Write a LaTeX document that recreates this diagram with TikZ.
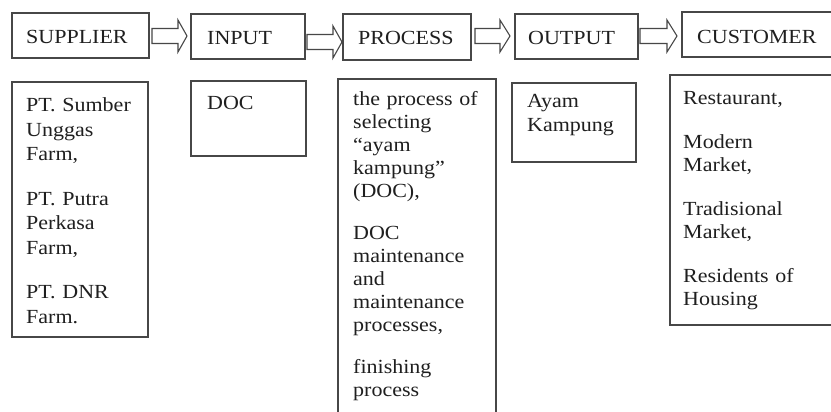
\documentclass[tikz,border=0pt]{standalone}
\usepackage{fontspec}
\setmainfont{Liberation Serif}[FakeStretch=1.1]
\newcommand\blockarr[4]{%
  \draw[barrow] (#1,#4-7.5) -- (#2,#4-7.5) -- (#2,#4-16) -- (#3,#4) -- (#2,#4+16) -- (#2,#4+7.5) -- (#1,#4+7.5) -- cycle;}
\begin{document}
\begin{tikzpicture}[x=1pt,y=-1pt,
  box/.style={draw=black!72, line width=1.1pt, rectangle, anchor=north west, inner sep=0pt, outer sep=0pt},
  hlabel/.style={anchor=base west, inner sep=0pt, text=black!88, font=\fontsize{20}{24}\selectfont},
  body/.style={anchor=base west, inner sep=0pt, text=black!88, align=left, text width=150pt},
  barrow/.style={draw=black!72, line width=1.1pt, fill=white, line join=miter}]
\clip (0,0) rectangle (831,412);
\fill[white] (0,0) rectangle (831,412);
% header boxes
\node[box, minimum width=137pt, minimum height=45pt] (hsup) at (12,13) {};
\node[box, minimum width=114pt, minimum height=45pt] (hinp) at (191,14) {};
\node[box, minimum width=128pt, minimum height=46pt] (hpro) at (343,14) {};
\node[box, minimum width=123pt, minimum height=45pt] (hout) at (515,14) {};
\node[box, minimum width=160pt, minimum height=45pt] (hcus) at (682,12) {};
\node[hlabel] (tsup) at (26,44) {SUPPLIER};
\node[hlabel] (tinp) at (207,45) {INPUT};
\node[hlabel] (tpro) at (358,45) {PROCESS};
\node[hlabel] (tout) at (528,45) {OUTPUT};
\node[hlabel] (tcus) at (697,44) {CUSTOMER};
% block arrows
\blockarr{152}{178}{187}{36}
\blockarr{307}{333}{342}{42}
\blockarr{475}{500}{510}{36}
\blockarr{640}{667}{677}{36}
% body boxes
\node[box, minimum width=136pt, minimum height=255pt] (bsup) at (12,82) {};
\node[box, minimum width=115pt, minimum height=75pt] (binp) at (191,81) {};
\node[box, minimum width=158pt, minimum height=345pt] (bpro) at (338,79) {};
\node[box, minimum width=124pt, minimum height=79pt] (bout) at (512,83) {};
\node[box, minimum width=170pt, minimum height=250pt] (bcus) at (670,75) {};
\node[body, font=\fontsize{20}{24.5}\selectfont] (xsup) at (26,112)
  {PT. Sumber\\Unggas\\Farm,\\[20pt]PT. Putra\\Perkasa\\Farm,\\[20pt]PT. DNR\\Farm.};
\node[body, font=\fontsize{20}{24}\selectfont] (xinp) at (207,110) {DOC};
\node[body, font=\fontsize{20}{23}\selectfont] (xpro) at (353,106)
  {the process of\\selecting\\“ayam\\kampung”\\(DOC),\\[19pt]DOC\\maintenance\\and\\maintenance\\processes,\\[19pt]finishing\\process};
\node[body, font=\fontsize{20}{24}\selectfont] (xout) at (527,108) {Ayam\\Kampung};
\node[body, font=\fontsize{20}{23.5}\selectfont] (xcus) at (683,105)
  {Restaurant,\\[20pt]Modern\\Market,\\[20pt]Tradisional\\Market,\\[20pt]Residents of\\Housing};
\end{tikzpicture}
\end{document}
